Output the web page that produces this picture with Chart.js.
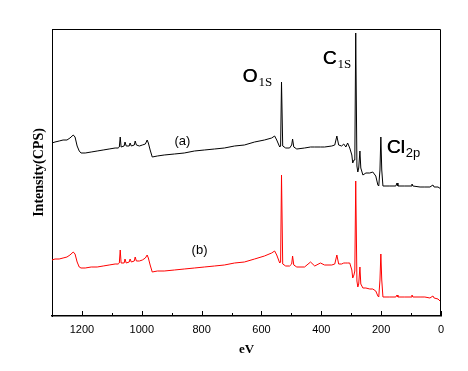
<!DOCTYPE html>
<html>
<head>
<meta charset="utf-8">
<title>XPS survey spectra</title>
<script src="https://cdn.jsdelivr.net/npm/chart.js@4.4.1/dist/chart.umd.min.js"></script>
<style>
  body { margin: 0; background: #fff; }
  #wrap { width: 468px; height: 371px; }
</style>
</head>
<body>
<div id="wrap"><canvas id="xps" width="468" height="371"></canvas></div>
<script>
// binding energy (eV), shared by both spectra
const energy = [
  1300, 1290, 1276, 1263, 1250, 1240, 1229, 1223, 1216, 1209,
  1203, 1189, 1169, 1149, 1129, 1109, 1089, 1079, 1075, 1072,
  1069, 1059, 1056, 1052, 1042, 1039, 1035, 1025, 1022, 1018,
  1008, 998, 988, 982, 978, 972, 965, 948, 925, 891,
  858, 824, 791, 757, 724, 690, 657, 623, 590, 566,
  556, 549, 539, 536, 533, 529, 519, 506, 499, 496,
  492, 482, 456, 436, 422, 403, 389, 365, 355, 348,
  342, 332, 325, 318, 312, 305, 298, 295, 291, 288,
  285, 281, 278, 275, 271, 268, 261, 251, 238, 228,
  218, 211, 208, 204, 201, 198, 194, 171, 151, 147,
  144, 121, 100, 97, 94, 70, 54, 37, 27, 23,
  10, 0
];

// spectrum (a) - black
const curveA = [
  173, 174, 175, 176, 176, 178, 181, 179, 170, 165,
  163, 163, 164, 165, 166, 167, 168, 168, 169, 179,
  169, 170, 174, 170, 170, 173, 170, 171, 175, 171,
  170, 171, 172, 176, 173, 166, 159, 160, 161, 162,
  163, 165, 166, 167, 168, 170, 171, 174, 176, 178,
  180, 176, 169, 170, 234, 170, 168, 168, 171, 177,
  169, 167, 168, 169, 169, 169, 169, 170, 171, 180,
  171, 170, 172, 169, 173, 168, 161, 153, 156, 156,
  283, 150, 144, 148, 165, 148, 141, 143, 143, 144,
  140, 131, 130, 146, 179, 146, 130, 130, 130, 133,
  130, 130, 130, 132, 130, 129, 129, 129, 131, 129,
  129, 127
];

// spectrum (b) - red
const curveB = [
  56, 57, 57, 58, 59, 61, 64, 62, 54, 49,
  48, 48, 49, 49, 50, 51, 52, 52, 53, 66,
  53, 53, 57, 53, 54, 57, 54, 55, 59, 55,
  55, 56, 58, 61, 58, 51, 44, 45, 45, 46,
  47, 48, 49, 50, 51, 53, 54, 57, 60, 63,
  65, 61, 53, 54, 141, 52, 50, 50, 52, 60,
  51, 49, 49, 54, 50, 53, 51, 51, 52, 61,
  52, 52, 53, 53, 53, 53, 46, 38, 41, 45,
  135, 35, 29, 32, 49, 32, 28, 28, 27, 27,
  25, 20, 19, 36, 62, 36, 19, 19, 19, 21,
  19, 19, 19, 21, 19, 19, 19, 18, 20, 18,
  17, 14
];

const tickValues = [0, 200, 400, 600, 800, 1000, 1200];
const minorValues = [100, 300, 500, 700, 900, 1100];

// peak assignments, anchored in data units (eV, intensity)
const peakLabels = [
  { main: 'O', sub: '1S', subFont: '13px "Liberation Serif"', ev: 663, level: 234 },
  { main: 'C', sub: '1S', subFont: '13px "Liberation Serif"', ev: 395, level: 252 },
  { main: 'Cl', sub: '2p', subFont: '13px "Liberation Sans"', ev: 181, level: 163 }
];
const curveLabels = [
  { text: '(a)', ev: 864, level: 175 },
  { text: '(b)', ev: 807, level: 66 }
];

const frameAndLabels = {
  id: 'frameAndLabels',
  afterDatasetsDraw(chart) {
    const { ctx, chartArea: a, scales: { x, y } } = chart;
    ctx.save();
    ctx.strokeStyle = '#000';
    ctx.lineWidth = 1;
    // top and right border
    ctx.beginPath();
    ctx.moveTo(a.left, a.top + 0.5);
    ctx.lineTo(a.right - 0.5, a.top + 0.5);
    ctx.lineTo(a.right - 0.5, a.bottom);
    ctx.stroke();

    // inward ticks on the energy axis
    ctx.beginPath();
    tickValues.forEach(v => {
      const px = Math.round(x.getPixelForValue(v)) + 0.5;
      ctx.moveTo(px, a.bottom);
      ctx.lineTo(px, a.bottom - 5);
    });
    minorValues.forEach(v => {
      const px = Math.round(x.getPixelForValue(v)) + 0.5;
      ctx.moveTo(px, a.bottom);
      ctx.lineTo(px, a.bottom - 3);
    });
    ctx.stroke();

    ctx.fillStyle = '#000';
    ctx.textBaseline = 'alphabetic';
    ctx.textAlign = 'left';
    peakLabels.forEach(p => {
      const px = x.getPixelForValue(p.ev);
      const py = y.getPixelForValue(p.level);
      ctx.font = '19px "Liberation Sans"';
      // slight double strike to get the heavier look of the original labels
      ctx.fillText(p.main, px, py);
      ctx.fillText(p.main, px + 0.4, py);
      const w = ctx.measureText(p.main).width;
      ctx.font = p.subFont;
      ctx.fillText(p.sub, px + w + 1, py + 4);
    });

    ctx.textAlign = 'center';
    ctx.textBaseline = 'middle';
    ctx.font = '13px "Liberation Sans"';
    curveLabels.forEach(l => {
      ctx.fillText(l.text, x.getPixelForValue(l.ev), y.getPixelForValue(l.level));
    });
    ctx.restore();
  }
};

new Chart(document.getElementById('xps'), {
  type: 'line',
  data: {
    datasets: [
      {
        label: '(a)',
        data: energy.map((e, i) => ({ x: e, y: curveA[i] })),
        borderColor: '#000',
        borderWidth: 1,
        pointRadius: 0,
        tension: 0
      },
      {
        label: '(b)',
        data: energy.map((e, i) => ({ x: e, y: curveB[i] })),
        borderColor: '#ff0000',
        borderWidth: 1,
        pointRadius: 0,
        tension: 0
      }
    ]
  },
  options: {
    responsive: false,
    animation: false,
    devicePixelRatio: 1,
    layout: { padding: { left: 0, right: 27, top: 29, bottom: 0 } },
    plugins: { legend: { display: false }, tooltip: { enabled: false } },
    scales: {
      x: {
        type: 'linear',
        reverse: true,
        min: 0,
        max: 1300,
        grid: { display: false, drawTicks: false },
        border: { display: true, color: '#000', width: 1.5 },
        ticks: {
          color: '#000',
          padding: 7,
          font: { family: 'Liberation Sans', size: 11 },
          callback: v => String(v)
        },
        afterBuildTicks: s => { s.ticks = tickValues.map(v => ({ value: v })); },
        afterFit: s => { s.height = 55; },
        title: {
          display: true,
          text: 'eV',
          color: '#000',
          font: { family: 'Liberation Serif', size: 13, weight: 'bold' },
          padding: { top: 0, bottom: 14 }
        }
      },
      y: {
        min: 0,
        max: 287,
        grid: { display: false, drawTicks: false },
        border: { display: true, color: '#000', width: 1 },
        ticks: { display: false },
        afterFit: s => { s.width = 52; },
        title: {
          display: true,
          text: 'Intensity(CPS)',
          color: '#000',
          font: { family: 'Liberation Serif', size: 14, weight: 'bold' },
          padding: { top: 31, bottom: 0 }
        }
      }
    }
  },
  plugins: [frameAndLabels]
});
</script>
</body>
</html>
